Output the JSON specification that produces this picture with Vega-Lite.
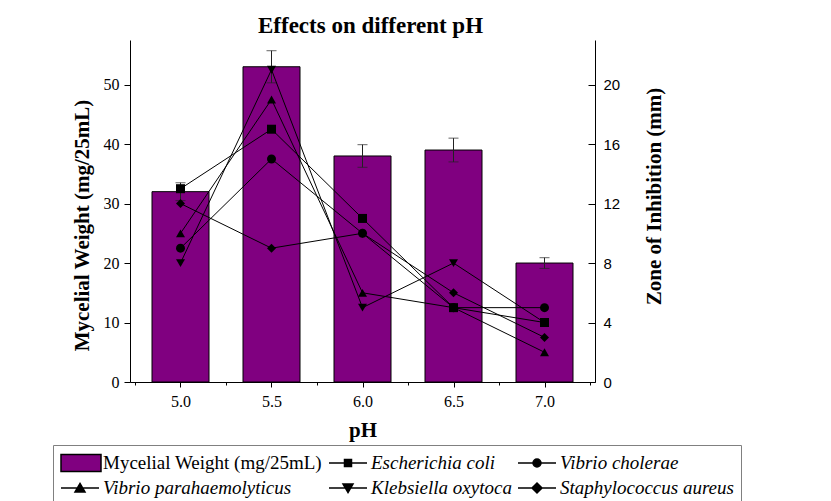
{
  "$schema": "https://vega.github.io/schema/vega-lite/v6.json",
  "width": 465,
  "height": 342,
  "autosize": "none",
  "padding": {"left": 130, "top": 40, "right": 236, "bottom": 119},
  "background": "white",
  "title": {
    "text": "Effects on different pH",
    "font": "Liberation Serif",
    "fontSize": 23,
    "fontWeight": "bold",
    "color": "black",
    "anchor": "middle",
    "frame": "group",
    "dx": 8,
    "baseline": "alphabetic",
    "offset": -16
  },
  "datasets": {
    "bars": [
      {"ph": 5.0, "mw": 32, "err": 1.5, "series": "Mycelial Weight (mg/25mL)"},
      {"ph": 5.5, "mw": 53, "err": 2.7, "series": "Mycelial Weight (mg/25mL)"},
      {"ph": 6.0, "mw": 38, "err": 1.9, "series": "Mycelial Weight (mg/25mL)"},
      {"ph": 6.5, "mw": 39, "err": 2.0, "series": "Mycelial Weight (mg/25mL)"},
      {"ph": 7.0, "mw": 20, "err": 0.9, "series": "Mycelial Weight (mg/25mL)"}
    ],
    "zones": [
      {"ph": 5.0, "zone": 13, "series": "Escherichia coli"},
      {"ph": 5.5, "zone": 17, "series": "Escherichia coli"},
      {"ph": 6.0, "zone": 11, "series": "Escherichia coli"},
      {"ph": 6.5, "zone": 5, "series": "Escherichia coli"},
      {"ph": 7.0, "zone": 4, "series": "Escherichia coli"},
      {"ph": 5.0, "zone": 9, "series": "Vibrio cholerae"},
      {"ph": 5.5, "zone": 15, "series": "Vibrio cholerae"},
      {"ph": 6.0, "zone": 10, "series": "Vibrio cholerae"},
      {"ph": 6.5, "zone": 5, "series": "Vibrio cholerae"},
      {"ph": 7.0, "zone": 5, "series": "Vibrio cholerae"},
      {"ph": 5.0, "zone": 10, "series": "Vibrio parahaemolyticus"},
      {"ph": 5.5, "zone": 19, "series": "Vibrio parahaemolyticus"},
      {"ph": 6.0, "zone": 6, "series": "Vibrio parahaemolyticus"},
      {"ph": 6.5, "zone": 5, "series": "Vibrio parahaemolyticus"},
      {"ph": 7.0, "zone": 2, "series": "Vibrio parahaemolyticus"},
      {"ph": 5.0, "zone": 8, "series": "Klebsiella oxytoca"},
      {"ph": 5.5, "zone": 21, "series": "Klebsiella oxytoca"},
      {"ph": 6.0, "zone": 5, "series": "Klebsiella oxytoca"},
      {"ph": 6.5, "zone": 8, "series": "Klebsiella oxytoca"},
      {"ph": 7.0, "zone": 4, "series": "Klebsiella oxytoca"},
      {"ph": 5.0, "zone": 12, "series": "Staphylococcus aureus"},
      {"ph": 5.5, "zone": 9, "series": "Staphylococcus aureus"},
      {"ph": 6.0, "zone": 10, "series": "Staphylococcus aureus"},
      {"ph": 6.5, "zone": 6, "series": "Staphylococcus aureus"},
      {"ph": 7.0, "zone": 3, "series": "Staphylococcus aureus"}
    ]
  },
  "layer": [
    {
      "data": {"name": "bars"},
      "layer": [
        {
          "mark": {"type": "bar", "size": 57, "stroke": "black", "strokeWidth": 1},
          "encoding": {
            "x": {
              "field": "ph", "type": "quantitative", "title": "pH",
              "scale": {"domain": [4.75, 7.25], "nice": false, "zero": false},
              "axis": {
                "values": [4.75, 5, 5.25, 5.5, 5.75, 6, 6.25, 6.5, 6.75, 7, 7.25],
                "labelExpr": "(datum.value * 2) % 1 === 0 ? format(datum.value, '.1f') : ''",
                "tickSize": {"condition": {"test": "(datum.value * 2) % 1 === 0", "value": 5}, "value": 3},
                "labelPadding": 6,
                "titlePadding": 10,
                "labelFlush": false,
                "labelOverlap": false
              }
            },
            "y": {
              "field": "mw", "type": "quantitative", "title": "Mycelial Weight (mg/25mL)",
              "scale": {"domain": [0, 57.5], "nice": false},
              "axis": {
                "values": [0, 5, 10, 15, 20, 25, 30, 35, 40, 45, 50, 55],
                "labelExpr": "datum.value % 10 === 0 ? datum.label : ''",
                "tickSize": {"condition": {"test": "datum.value % 10 === 0", "value": 6}, "value": 3},
                "labelPadding": 5,
                "titlePadding": 11,
                "titleY": 185,
                "labelOverlap": false,
                "labelFlush": false
              }
            },
            "fill": {
              "field": "series", "type": "nominal",
              "scale": {
                "domain": ["Mycelial Weight (mg/25mL)", "Escherichia coli", "Vibrio cholerae", "Vibrio parahaemolyticus", "Klebsiella oxytoca", "Staphylococcus aureus"],
                "range": ["#800080", "black", "black", "black", "black", "black"]
              },
              "legend": {
                "title": null, "orient": "none", "legendX": -77, "legendY": 405,
                "direction": "horizontal", "columns": 3, "gridAlign": "none",
                "labelFont": "Liberation Serif", "labelFontSize": 19, "labelColor": "black", "labelLimit": 0,
                "labelFontStyle": {"expr": "datum.value === 'Mycelial Weight (mg/25mL)' ? 'normal' : 'italic'"},
                "symbolType": {"expr": "datum.value === 'Mycelial Weight (mg/25mL)' ? 'M-1,-0.85H3V0.85H-1Z' : datum.value === 'Escherichia coli' ? 'M-1,0H2.8M0.55,-0.35H1.25V0.35H0.55Z' : datum.value === 'Vibrio cholerae' ? 'M-1,0H2.8M1.3,0A0.4,0.4 0 1,1 0.5,0A0.4,0.4 0 1,1 1.3,0Z' : datum.value === 'Vibrio parahaemolyticus' ? 'M-1,0H2.8M0.9,-0.45L1.4,0.4H0.4Z' : datum.value === 'Klebsiella oxytoca' ? 'M-1,0H2.8M0.9,0.45L1.4,-0.4H0.4Z' : 'M-1,0H2.8M0.9,-0.5L1.4,0L0.9,0.5L0.4,0Z'"},
                "symbolSize": 400, "labelOffset": 21, "columnPadding": 3, "rowPadding": 2,
                "padding": 7, "strokeColor": "#808080",
                "encode": {
                  "symbols": {
                    "size": {"value": 400},
                    "stroke": {"value": "black"}, "strokeWidth": {"value": 1}, "opacity": {"value": 1}
                  }
                }
              }
            }
          }
        },
        {
          "mark": {"type": "errorbar", "ticks": {"size": 10, "color": "#222222"}, "rule": {"color": "#222222", "strokeWidth": 1}},
          "encoding": {
            "x": {"field": "ph", "type": "quantitative"},
            "y": {"field": "mw", "type": "quantitative", "title": "Mycelial Weight (mg/25mL)"},
            "yError": {"field": "err"}
          }
        }
      ]
    },
    {
      "data": {"name": "zones"},
      "layer": [
        {
          "mark": {"type": "line", "color": "black", "strokeWidth": 1},
          "encoding": {
            "x": {"field": "ph", "type": "quantitative"},
            "y": {
              "field": "zone", "type": "quantitative", "title": "Zone of Inhibition (mm)",
              "scale": {"domain": [0, 23], "nice": false},
              "axis": {
                "orient": "right",
                "values": [0, 1, 2, 3, 4, 5, 6, 7, 8, 9, 10, 11, 12, 13, 14, 15, 16, 17, 18, 19, 20, 21, 22, 23],
                "labelExpr": "datum.value % 2 === 0 ? datum.label : ''",
                "tickSize": {"condition": {"test": "datum.value % 2 === 0", "value": -7}, "value": -4},
                "labelFont": "Liberation Sans",
                "labelFontSize": 15,
                "labelPadding": 15,
                "titleAngle": -90,
                "titleBaseline": "top",
                "titlePadding": 24,
                "titleY": 156,
                "labelOverlap": false,
                "labelFlush": false
              }
            },
            "detail": {"field": "series"}
          }
        },
        {
          "mark": {"type": "point", "filled": true, "opacity": 1, "size": 81},
          "encoding": {
            "x": {"field": "ph", "type": "quantitative"},
            "y": {"field": "zone", "type": "quantitative", "title": "Zone of Inhibition (mm)"},
            "shape": {
              "field": "series", "type": "nominal", "legend": null,
              "scale": {
                "domain": ["Escherichia coli", "Vibrio cholerae", "Vibrio parahaemolyticus", "Klebsiella oxytoca", "Staphylococcus aureus"],
                "range": ["square", "circle", "triangle-up", "triangle-down", "diamond"]
              }
            },
            "fill": {
              "field": "series", "type": "nominal",
              "legend": {
                "title": null, "orient": "none", "legendX": -77, "legendY": 405,
                "direction": "horizontal", "columns": 3, "gridAlign": "none",
                "labelFont": "Liberation Serif", "labelFontSize": 19, "labelColor": "black", "labelLimit": 0,
                "labelFontStyle": {"expr": "datum.value === 'Mycelial Weight (mg/25mL)' ? 'normal' : 'italic'"},
                "symbolType": {"expr": "datum.value === 'Mycelial Weight (mg/25mL)' ? 'M-1,-0.85H3V0.85H-1Z' : datum.value === 'Escherichia coli' ? 'M-1,0H2.8M0.55,-0.35H1.25V0.35H0.55Z' : datum.value === 'Vibrio cholerae' ? 'M-1,0H2.8M1.3,0A0.4,0.4 0 1,1 0.5,0A0.4,0.4 0 1,1 1.3,0Z' : datum.value === 'Vibrio parahaemolyticus' ? 'M-1,0H2.8M0.9,-0.45L1.4,0.4H0.4Z' : datum.value === 'Klebsiella oxytoca' ? 'M-1,0H2.8M0.9,0.45L1.4,-0.4H0.4Z' : 'M-1,0H2.8M0.9,-0.5L1.4,0L0.9,0.5L0.4,0Z'"},
                "symbolSize": 400, "labelOffset": 21, "columnPadding": 3, "rowPadding": 2,
                "padding": 7, "strokeColor": "#808080",
                "encode": {
                  "symbols": {
                    "size": {"value": 400},
                    "stroke": {"value": "black"}, "strokeWidth": {"value": 1}, "opacity": {"value": 1}
                  }
                }
              }
            }
          }
        }
      ]
    }
  ],
  "resolve": {"scale": {"y": "independent"}, "axis": {"y": "independent"}},
  "config": {
    "view": {"stroke": null},
    "axis": {
      "grid": false,
      "domainColor": "black",
      "domainWidth": 1,
      "tickColor": "black",
      "tickWidth": 1,
      "labelColor": "black",
      "titleColor": "black",
      "labelFont": "Liberation Serif",
      "labelFontSize": 16,
      "titleFont": "Liberation Serif",
      "titleFontSize": 21,
      "titleFontWeight": "bold"
    }
  }
}
